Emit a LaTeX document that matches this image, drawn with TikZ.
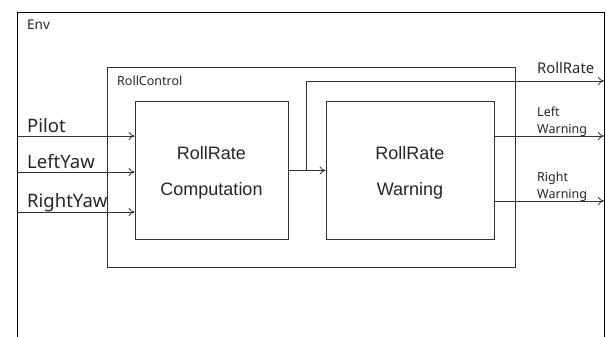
\documentclass[tikz,border=0pt]{standalone}
\usepackage{fontspec}
\setmainfont{Noto Sans}
\newfontfamily\boxfont{Liberation Sans}
\usetikzlibrary{arrows.meta}
\tikzset{
  blk/.style={draw=black!80, line width=0.8pt, inner sep=0pt},
  btxt/.style={anchor=base, inner sep=0pt, text=black!85, font=\boxfont\fontsize{18}{22}\selectfont},
  wire/.style={draw=black!80, line width=0.8pt},
  arr/.style={wire, -{To[length=6pt,width=8pt]}},
  lbl/.style={anchor=base west, inner sep=0pt, text=black!85},
}
\begin{document}
\begin{tikzpicture}[x=1pt,y=-1pt]
\useasboundingbox (0,0) rectangle (606,337);
% Env frame (bottom edge is cut off)
\draw[black, line width=0.9pt] (17,337) -- (17,12) -- (604,12) -- (604,337);
\node[lbl, font=\fontsize{13.5}{16}\selectfont] (env) at (27,30) {Env};
% RollControl
\node[draw=black!80, line width=0.8pt, minimum width=408pt, minimum height=200pt, inner sep=0pt] (rc) at (311,167) {};
\node[lbl, font=\fontsize{12.5}{15}\selectfont] (rcl) at (117,86) {RollControl};
% blocks
\node[blk, minimum width=153pt, minimum height=138pt] (comp) at (211.5,170.5) {};
\node[btxt] (c1) at (211.5,160) {RollRate};
\node[btxt] (c2) at (211.5,195) {Computation};
\node[blk, minimum width=168pt, minimum height=138pt] (warn) at (410,170.5) {};
\node[btxt] (w1) at (410,160) {RollRate};
\node[btxt] (w2) at (410,195) {Warning};
% inputs
\coordinate (in1) at (17,136);
\coordinate (in2) at (17,172);
\coordinate (in3) at (17,212);
\draw[arr] (in1) -- (in1 -| comp.west);
\draw[arr] (in2) -- (in2 -| comp.west);
\draw[arr] (in3) -- (in3 -| comp.west);
\node[lbl, font=\fontsize{18.5}{22}\selectfont] (lp) at (27,132.5) {Pilot};
\node[lbl, font=\fontsize{18.5}{22}\selectfont] (ll) at (27,168) {LeftYaw};
\node[lbl, font=\fontsize{18.5}{22}\selectfont] (lr) at (27,207.5) {RightYaw};
% internal connection and RollRate output
\coordinate (br) at (306,170.5);
\coordinate (o1) at (604,81);
\draw[wire] (comp.east) -- (br);
\draw[arr] (br) -- (warn.west);
\draw[arr] (br) |- (o1);
\node[lbl, font=\fontsize{14.8}{17}\selectfont] (lo1) at (537,74) {RollRate};
% warning outputs
\coordinate (o2) at (604,136);
\coordinate (o3) at (604,201);
\draw[arr] (o2 -| warn.east) -- (o2);
\draw[arr] (o3 -| warn.east) -- (o3);
\node[lbl, font=\fontsize{12.5}{15}\selectfont] (lo2a) at (537,117) {Left};
\node[lbl, font=\fontsize{12.5}{15}\selectfont] (lo2b) at (537,133) {Warning};
\node[lbl, font=\fontsize{12.5}{15}\selectfont] (lo3a) at (537,182) {Right};
\node[lbl, font=\fontsize{12.5}{15}\selectfont] (lo3b) at (537,198) {Warning};
\end{tikzpicture}
\end{document}
